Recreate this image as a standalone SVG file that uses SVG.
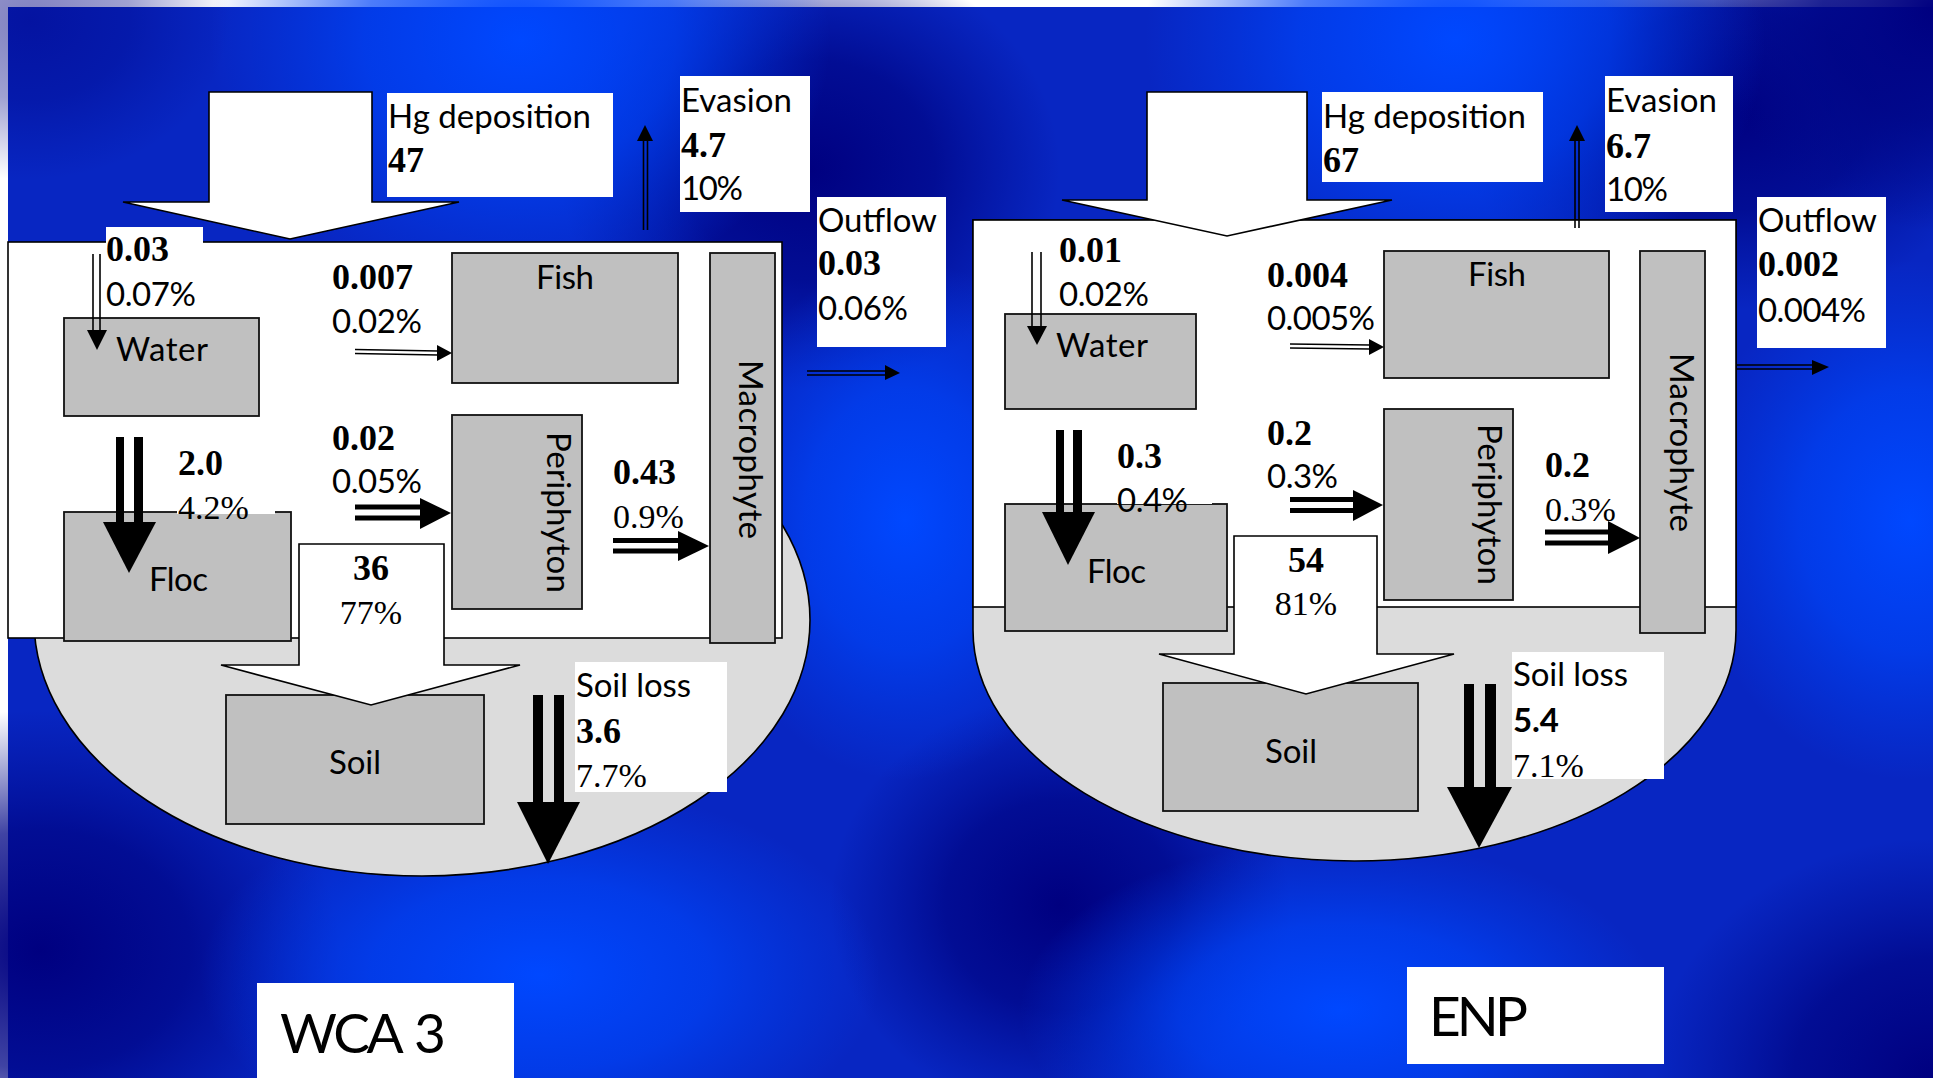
<svg xmlns="http://www.w3.org/2000/svg" width="1933" height="1078" viewBox="0 0 1933 1078">
<style>
.sans{font-family:Lato,'Liberation Sans',sans-serif;font-size:33px;fill:#000}
.big{font-size:55px}
.num{font-family:'Liberation Serif','Times New Roman',serif;font-weight:bold;font-size:36px;fill:#000}
.numS{font-family:Lato,'Liberation Sans',sans-serif;font-weight:bold;font-size:33px;fill:#000}
.pct{font-family:'Liberation Serif','Times New Roman',serif;font-size:34px;fill:#000}
.mid{text-anchor:middle}
.node{fill:#c0c0c0;stroke:#111;stroke-width:1.8}
.lbl{fill:#fff}
.blk{fill:#fff;stroke:#000;stroke-width:1.6;stroke-linejoin:miter}
.wat{fill:#fff;stroke:#000;stroke-width:1.6}
.soilbg{fill:#dcdcdc;stroke:#000;stroke-width:1.6}
.ln1{stroke:#000;stroke-width:1.6;fill:none}
.ln5{stroke:#000;stroke-width:5;fill:none}
.head{fill:#000}
</style>
<defs>
<radialGradient id="hi">
<stop offset="0" stop-color="#0048ff"/>
<stop offset="0.5" stop-color="#0044f8" stop-opacity="0.7"/>
<stop offset="1" stop-color="#0040f0" stop-opacity="0"/>
</radialGradient>
<radialGradient id="dk">
<stop offset="0" stop-color="#000080"/>
<stop offset="0.5" stop-color="#000585" stop-opacity="0.75"/>
<stop offset="1" stop-color="#000a8c" stop-opacity="0"/>
</radialGradient>
</defs>

<g id="background">
<rect x="0" y="0" width="1933" height="1078" fill="#fff"/>
<rect x="8" y="7" width="1925" height="1071" fill="#0826c2"/>
<ellipse cx="810" cy="170" rx="250" ry="220" fill="url(#dk)"/>
<ellipse cx="1730" cy="110" rx="280" ry="200" fill="url(#dk)"/>
<ellipse cx="1933" cy="10" rx="220" ry="220" fill="url(#dk)"/>
<ellipse cx="40" cy="950" rx="300" ry="240" fill="url(#dk)"/>
<ellipse cx="1060" cy="905" rx="230" ry="210" fill="url(#dk)"/>
<ellipse cx="1933" cy="1078" rx="280" ry="240" fill="url(#dk)"/>
<ellipse cx="30" cy="20" rx="200" ry="160" fill="url(#dk)" opacity="0.5"/>
<ellipse cx="520" cy="40" rx="310" ry="260" fill="url(#hi)"/>
<ellipse cx="1455" cy="40" rx="310" ry="260" fill="url(#hi)"/>
<ellipse cx="905" cy="520" rx="200" ry="260" fill="url(#hi)"/>
<ellipse cx="1910" cy="520" rx="220" ry="260" fill="url(#hi)"/>
<ellipse cx="540" cy="975" rx="340" ry="190" fill="url(#hi)"/>
<ellipse cx="1340" cy="1010" rx="320" ry="170" fill="url(#hi)"/>
</g>

<g id="panel-WCA3">
<ellipse id="soil-zone-L" class="soilbg" cx="422" cy="620" rx="388" ry="256"/>
<rect id="water-zone-L" class="wat" x="8" y="242" width="774" height="396"/>
</g>
<g id="panel-ENP">
<path id="soil-zone-R" class="soilbg" d="M973,220 H1736 V630 A381.5,231 0 0 1 973,630 Z"/>
<rect id="water-zone-R" class="wat" x="973" y="220" width="763" height="387"/>
</g>

<g id="node-water-L"><rect class="node" x="64" y="318" width="195" height="98"/><text class="sans" x="116" y="361" textLength="92">Water</text></g>
<g id="node-fish-L"><rect class="node" x="452" y="253" width="226" height="130"/><text class="sans mid" x="565" y="289" textLength="58">Fish</text></g>
<g id="node-periphyton-L"><rect class="node" x="452" y="415" width="130" height="194"/><text class="sans" transform="translate(547,432) rotate(90)" textLength="161">Periphyton</text></g>
<g id="node-macrophyte-L"><rect class="node" x="710" y="253" width="65" height="390"/><text class="sans" transform="translate(739,360) rotate(90)" textLength="179">Macrophyte</text></g>
<g id="node-floc-L"><rect class="node" x="64" y="512" width="227" height="129"/><text class="sans" x="149" y="591" textLength="59">Floc</text></g>
<g id="node-soil-L"><rect class="node" x="226" y="695" width="258" height="129"/><text class="sans mid" x="355" y="774" textLength="52">Soil</text></g>

<g id="node-water-R"><rect class="node" x="1005" y="314" width="191" height="95"/><text class="sans" x="1056" y="357" textLength="92">Water</text></g>
<g id="node-fish-R"><rect class="node" x="1384" y="251" width="225" height="127"/><text class="sans mid" x="1497" y="286" textLength="58">Fish</text></g>
<g id="node-periphyton-R"><rect class="node" x="1384" y="409" width="129" height="191"/><text class="sans" transform="translate(1478,424) rotate(90)" textLength="161">Periphyton</text></g>
<g id="node-macrophyte-R"><rect class="node" x="1640" y="251" width="65" height="382"/><text class="sans" transform="translate(1670,353) rotate(90)" textLength="179">Macrophyte</text></g>
<g id="node-floc-R"><rect class="node" x="1005" y="504" width="222" height="127"/><text class="sans" x="1087" y="583" textLength="59">Floc</text></g>
<g id="node-soil-R"><rect class="node" x="1163" y="683" width="255" height="128"/><text class="sans mid" x="1291" y="763" textLength="52">Soil</text></g>

<g id="connectors">
<path class="blk" d="M209,92 H372 V202 H459 L290,239 L123,202 H209 Z"/>
<path class="blk" d="M299,544 H444 V665 H520 L371,705 L221,665 H299 Z"/>
<line class="ln1" x1="93" y1="254" x2="93" y2="331"/><line class="ln1" x1="100" y1="254" x2="100" y2="331"/><polygon class="head" points="87,330 107,330 97,350"/>
<rect class="head" x="116" y="437" width="8" height="86"/><rect class="head" x="134" y="437" width="9" height="86"/><polygon class="head" points="103,522 156,522 129,573"/>
<line class="ln1" x1="355" y1="349.5" x2="438" y2="351"/><line class="ln1" x1="355" y1="353.5" x2="438" y2="355"/><polygon class="head" points="437,345 437,361 452,353"/>
<line class="ln5" x1="355" y1="507" x2="421" y2="507"/><line class="ln5" x1="355" y1="518" x2="421" y2="518"/><polygon class="head" points="420,498 420,529 451,513"/>
<line class="ln5" x1="613" y1="540.5" x2="679" y2="540.5"/><line class="ln5" x1="613" y1="551" x2="679" y2="551"/><polygon class="head" points="678,531 678,561 709,546"/>
<rect class="head" x="533" y="695" width="10" height="108"/><rect class="head" x="554" y="695" width="10" height="108"/><polygon class="head" points="517,802 580,802 548,864"/>
<line class="ln1" x1="643.5" y1="230" x2="643.5" y2="140"/><line class="ln1" x1="647.5" y1="230" x2="647.5" y2="140"/><polygon class="head" points="637,141 653,141 645,125"/>
<line class="ln1" x1="807" y1="371" x2="886" y2="371"/><line class="ln1" x1="807" y1="375" x2="886" y2="375"/><polygon class="head" points="885,365 885,380 900,373"/>
<path class="blk" d="M1147,92 H1307 V200 H1392 L1227,236 L1062,200 H1147 Z"/>
<path class="blk" d="M1234,536 H1377 V654 H1454 L1306,694 L1159,654 H1234 Z"/>
<line class="ln1" x1="1032" y1="252" x2="1032" y2="327"/><line class="ln1" x1="1041" y1="252" x2="1041" y2="327"/><polygon class="head" points="1027,326 1047,326 1037,345"/>
<rect class="head" x="1056" y="430" width="8" height="83"/><rect class="head" x="1073" y="430" width="9" height="83"/><polygon class="head" points="1042,512 1095,512 1068,565"/>
<line class="ln1" x1="1290" y1="344" x2="1370" y2="345"/><line class="ln1" x1="1290" y1="348" x2="1370" y2="349"/><polygon class="head" points="1369,339 1369,355 1384,347"/>
<line class="ln5" x1="1290" y1="499.5" x2="1354" y2="499.5"/><line class="ln5" x1="1290" y1="510.5" x2="1354" y2="510.5"/><polygon class="head" points="1353,490 1353,521 1383,505"/>
<line class="ln5" x1="1545" y1="532" x2="1609" y2="532"/><line class="ln5" x1="1545" y1="543" x2="1609" y2="543"/><polygon class="head" points="1608,521 1608,554 1640,538"/>
<rect class="head" x="1464" y="684" width="10" height="104"/><rect class="head" x="1485" y="684" width="11" height="104"/><polygon class="head" points="1447,787 1512,787 1479,848"/>
<line class="ln1" x1="1575" y1="228" x2="1575" y2="140"/><line class="ln1" x1="1579" y1="228" x2="1579" y2="140"/><polygon class="head" points="1569,141 1585,141 1577,125"/>
<line class="ln1" x1="1736" y1="365" x2="1813" y2="365"/><line class="ln1" x1="1736" y1="369" x2="1813" y2="369"/><polygon class="head" points="1812,360 1812,375 1829,367"/>
</g>

<g id="labels-WCA3">
<g id="lbl-deposition-L"><rect class="lbl" x="387" y="93" width="226" height="104"/><text class="sans" x="388" y="128" textLength="203">Hg deposition</text><text class="num" x="388" y="172">47</text></g>
<g id="lbl-evasion-L"><rect class="lbl" x="680" y="76" width="130" height="136"/><text class="sans" x="681" y="112" textLength="111">Evasion</text><text class="num" x="681" y="157">4.7</text><text class="sans" x="681" y="200" textLength="62">10%</text></g>
<g id="lbl-outflow-L"><rect class="lbl" x="817" y="197" width="129" height="150"/><text class="sans" x="818" y="232" textLength="119">Outflow</text><text class="num" x="818" y="275">0.03</text><text class="sans" x="818" y="320" textLength="90">0.06%</text></g>
<g id="lbl-water-in-L"><rect class="lbl" x="106" y="227" width="97" height="85"/><text class="num" x="106" y="261">0.03</text><text class="sans" x="106" y="306" textLength="90">0.07%</text></g>
<g id="lbl-fish-L"><text class="num" x="332" y="289">0.007</text><text class="sans" x="332" y="333" textLength="90">0.02%</text></g>
<g id="lbl-floc-L"><rect class="lbl" x="177" y="445" width="98" height="69"/><text class="num" x="178" y="475">2.0</text><text class="pct" x="178" y="519">4.2%</text></g>
<g id="lbl-peri-L"><text class="num" x="332" y="450">0.02</text><text class="sans" x="332" y="493" textLength="90">0.05%</text></g>
<g id="lbl-macro-L"><text class="num" x="613" y="484">0.43</text><text class="pct" x="613" y="528">0.9%</text></g>
<g id="lbl-soil-L"><text class="num mid" x="371" y="580">36</text><text class="pct mid" x="371" y="624">77%</text></g>
<g id="lbl-soilloss-L"><rect class="lbl" x="575" y="662" width="152" height="130"/><text class="sans" x="576" y="697" textLength="115">Soil loss</text><text class="num" x="576" y="743">3.6</text><text class="pct" x="576" y="787">7.7%</text></g>
<g id="title-WCA3"><rect class="lbl" x="257" y="983" width="257" height="95"/><text class="sans big" x="280" y="1053"><tspan textLength="122">WCA</tspan> <tspan x="414">3</tspan></text></g>
</g>

<g id="labels-ENP">
<g id="lbl-deposition-R"><rect class="lbl" x="1322" y="92" width="221" height="90"/><text class="sans" x="1323" y="128" textLength="203">Hg deposition</text><text class="num" x="1323" y="172">67</text></g>
<g id="lbl-evasion-R"><rect class="lbl" x="1605" y="76" width="128" height="136"/><text class="sans" x="1606" y="112" textLength="111">Evasion</text><text class="num" x="1606" y="158">6.7</text><text class="sans" x="1606" y="201" textLength="62">10%</text></g>
<g id="lbl-outflow-R"><rect class="lbl" x="1757" y="197" width="129" height="151"/><text class="sans" x="1758" y="232" textLength="119">Outflow</text><text class="num" x="1758" y="276">0.002</text><text class="sans" x="1758" y="322" textLength="108">0.004%</text></g>
<g id="lbl-water-in-R"><text class="num" x="1059" y="262">0.01</text><text class="sans" x="1059" y="306" textLength="90">0.02%</text></g>
<g id="lbl-fish-R"><text class="num" x="1267" y="287">0.004</text><text class="sans" x="1267" y="330" textLength="108">0.005%</text></g>
<g id="lbl-floc-R"><rect class="lbl" x="1117" y="440" width="95" height="64"/><text class="num" x="1117" y="468">0.3</text><text class="sans" x="1117" y="512" textLength="71">0.4%</text></g>
<g id="lbl-peri-R"><text class="num" x="1267" y="445">0.2</text><text class="sans" x="1267" y="488" textLength="71">0.3%</text></g>
<g id="lbl-macro-R"><text class="num" x="1545" y="477">0.2</text><text class="pct" x="1545" y="521">0.3%</text></g>
<g id="lbl-soil-R"><text class="num mid" x="1306" y="572">54</text><text class="pct mid" x="1306" y="615">81%</text></g>
<g id="lbl-soilloss-R"><rect class="lbl" x="1512" y="652" width="152" height="127"/><text class="sans" x="1513" y="686" textLength="115">Soil loss</text><text class="numS" x="1513" y="732" textLength="46">5.4</text><text class="pct" x="1513" y="777">7.1%</text></g>
<g id="title-ENP"><rect class="lbl" x="1407" y="967" width="257" height="97"/><text class="sans big" x="1429" y="1036" textLength="99">ENP</text></g>
</g>
</svg>
